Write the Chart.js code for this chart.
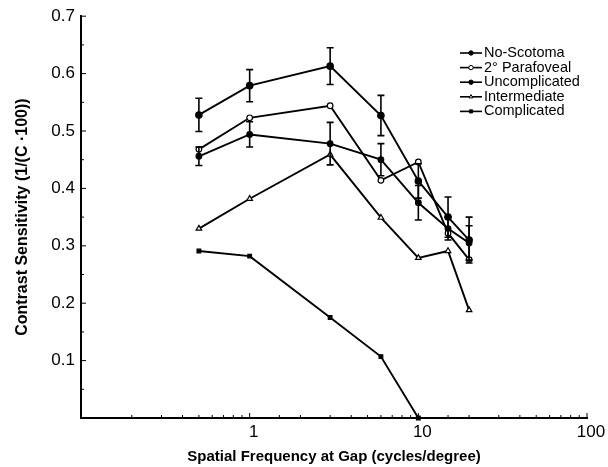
<!DOCTYPE html>
<html>
<head>
<meta charset="utf-8">
<script src="https://cdn.jsdelivr.net/npm/chart.js@4/dist/chart.umd.min.js"></script>
<style>
  html, body { margin: 0; padding: 0; background: #fff; }
  #wrap { width: 608px; height: 467px; }
</style>
</head>
<body>
<div id="wrap"><canvas id="csfChart" width="608" height="467"></canvas></div>
<script>
// spatial frequencies (cycles/degree) and sensitivity per group
const frequencies = [0.5, 1, 3, 6, 10, 15, 20];
const seriesNames = ['No-Scotoma', '2° Parafoveal', 'Uncomplicated', 'Intermediate', 'Complicated'];
const noScotoma     = [0.528, 0.579, 0.613, 0.527, 0.413, 0.350, 0.310];
const noScotomaErr  = [0.029, 0.028, 0.032, 0.035, 0.030, 0.035, 0.040];
const parafoveal    = [0.468, 0.523, 0.544, 0.414, 0.446, 0.322, 0.276];
const uncomplicated = [0.456, 0.494, 0.478, 0.450, 0.375, 0.330, 0.305];
const uncompErr     = [0.016, 0.022, 0.037, 0.028, 0.030, 0.020, 0.030];
const intermediate  = [0.330, 0.382, 0.459, 0.349, 0.279, 0.291, 0.188];
const complicated   = [0.291, 0.282, 0.175, 0.107, 0.000];
const xTickLabels = [1, 10, 100];
const yTickLabels = [0.1, 0.2, 0.3, 0.4, 0.5, 0.6, 0.7];

const FONT = "'Liberation Sans', Arial, Helvetica, sans-serif";

function toPoints(values) {
    return values.map((v, i) => ({ x: frequencies[i], y: v }));
}

function isDecade(v) {
    const l = Math.log10(v);
    return Math.abs(l - Math.round(l)) < 1e-6;
}

// vertical error bars with caps
const errorBars = {
    id: 'errorBars',
    afterDatasetsDraw(chart) {
        const ctx = chart.ctx;
        const yScale = chart.scales.y;
        ctx.save();
        ctx.strokeStyle = '#000';
        ctx.lineWidth = 1.6;
        chart.data.datasets.forEach((ds, di) => {
            if (!ds.errors) return;
            const meta = chart.getDatasetMeta(di);
            ds.errors.forEach((e, i) => {
                const pt = meta.data[i];
                if (!pt) return;
                const v = ds.data[i].y;
                const yTop = yScale.getPixelForValue(v + e);
                const yBot = yScale.getPixelForValue(v - e);
                ctx.beginPath();
                ctx.moveTo(pt.x, yTop); ctx.lineTo(pt.x, yBot);
                ctx.moveTo(pt.x - 3.5, yTop); ctx.lineTo(pt.x + 3.5, yTop);
                ctx.moveTo(pt.x - 3.5, yBot); ctx.lineTo(pt.x + 3.5, yBot);
                ctx.stroke();
            });
        });
        ctx.restore();
    }
};

// small tick marks pointing into the plot
const innerTicks = {
    id: 'innerTicks',
    afterDraw(chart) {
        const ctx = chart.ctx;
        const xs = chart.scales.x, ys = chart.scales.y;
        const area = chart.chartArea;
        ctx.save();
        ctx.strokeStyle = '#000';
        ctx.lineWidth = 1;
        ctx.beginPath();
        xs.ticks.forEach(t => {
            const px = xs.getPixelForValue(t.value);
            const len = isDecade(t.value) ? 5 : 3;
            ctx.moveTo(px, area.bottom); ctx.lineTo(px, area.bottom - len);
        });
        ys.ticks.forEach(t => {
            const py = ys.getPixelForValue(t.value);
            const major = Math.abs(t.value * 10 - Math.round(t.value * 10)) < 1e-6;
            const len = major ? 5 : 3;
            ctx.moveTo(area.left, py); ctx.lineTo(area.left + len, py);
        });
        ctx.stroke();
        ctx.restore();
    }
};

// legend in the upper right, line sample with marker
const insetLegend = {
    id: 'insetLegend',
    afterDraw(chart) {
        const ctx = chart.ctx;
        const x0 = 460, x1 = 482, yStart = 53, step = 14.6;
        ctx.save();
        ctx.font = '14.5px ' + FONT;
        ctx.fillStyle = '#000';
        ctx.textBaseline = 'middle';
        chart.data.datasets.forEach((ds, i) => {
            const y = yStart + i * step;
            ctx.strokeStyle = '#000';
            ctx.lineWidth = 1.6;
            ctx.beginPath();
            ctx.moveTo(x0, y); ctx.lineTo(x1, y);
            ctx.stroke();
            ctx.fillStyle = ds.pointBackgroundColor;
            ctx.strokeStyle = '#000';
            ctx.lineWidth = 1;
            Chart.helpers.drawPoint(ctx, { pointStyle: ds.pointStyle, radius: 2.2, rotation: 0, borderWidth: 1 }, (x0 + x1) / 2, y);
            ctx.fillStyle = '#000';
            ctx.fillText(ds.label, x1 + 2, y);
        });
        ctx.restore();
    }
};

function series(label, values, style, fill, radius, errors) {
    return {
        label: label,
        data: toPoints(values),
        errors: errors,
        borderColor: '#000',
        borderWidth: 1.9,
        pointStyle: style,
        pointRadius: radius,
        pointBackgroundColor: fill,
        pointBorderColor: '#000',
        pointBorderWidth: 1.2,
        tension: 0,
        fill: false,
        clip: false
    };
}

document.addEventListener('DOMContentLoaded', function() {
    const ctx = document.getElementById('csfChart').getContext('2d');
    new Chart(ctx, {
        type: 'line',
        data: {
            datasets: [
                series(seriesNames[0], noScotoma, 'circle', '#000', 3.2, noScotomaErr),
                series(seriesNames[1], parafoveal, 'circle', '#fff', 2.8),
                series(seriesNames[2], uncomplicated, 'circle', '#000', 2.8, uncompErr),
                series(seriesNames[3], intermediate, 'triangle', '#fff', 3.2),
                series(seriesNames[4], complicated, 'rect', '#000', 2.6)
            ]
        },
        options: {
            responsive: false,
            animation: false,
            events: [],
            layout: { padding: { left: 0, right: 21, top: 15, bottom: 0 } },
            plugins: {
                legend: { display: false },
                tooltip: { enabled: false }
            },
            scales: {
                x: {
                    type: 'logarithmic',
                    min: 0.1,
                    max: 100,
                    grid: { display: false, drawTicks: false },
                    border: { display: true, color: '#000', width: 2 },
                    afterFit(scale) { scale.height = 49; },
                    ticks: {
                        autoSkip: false,
                        maxRotation: 0,
                        padding: 4,
                        labelOffset: 4,
                        color: '#000',
                        font: { family: FONT, size: 17 },
                        callback: function(v) {
                            return xTickLabels.some(t => Math.abs(t - v) < 1e-6) ? String(Math.round(v)) : '';
                        }
                    },
                    title: {
                        display: true,
                        text: 'Spatial Frequency at Gap (cycles/degree)',
                        color: '#000',
                        font: { family: FONT, size: 15, weight: 'bold' },
                        padding: { top: 0, bottom: 1 }
                    }
                },
                y: {
                    min: 0,
                    max: 0.7,
                    grid: { display: false, drawTicks: false },
                    border: { display: true, color: '#000', width: 2 },
                    afterFit(scale) { scale.width = 81; },
                    ticks: {
                        stepSize: 0.05,
                        autoSkip: false,
                        padding: 6,
                        color: '#000',
                        font: { family: FONT, size: 17 },
                        callback: function(v) {
                            const hit = yTickLabels.find(t => Math.abs(t - v) < 1e-6);
                            return hit !== undefined ? hit.toFixed(1) : '';
                        }
                    },
                    title: {
                        display: true,
                        text: 'Contrast Sensitivity (1/(C \u00b7100))',
                        color: '#000',
                        font: { family: FONT, size: 16, weight: 'bold' },
                        padding: { top: 13, bottom: 0 }
                    }
                }
            }
        },
        plugins: [errorBars, innerTicks, insetLegend]
    });
});
</script>
</body>
</html>
